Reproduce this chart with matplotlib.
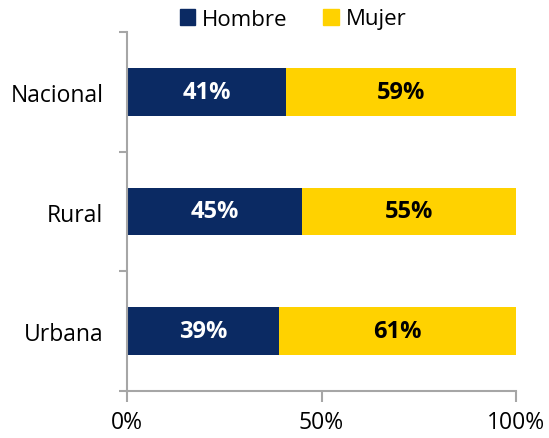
import matplotlib
matplotlib.use("Agg")
import matplotlib.pyplot as plt
from matplotlib.patches import Patch

categories = ["Nacional", "Rural", "Urbana"]
hombre = [41, 45, 39]
mujer = [59, 55, 61]
xticks = [0, 50, 100]
xticklabels = ["0%", "50%", "100%"]

navy = "#0B2A63"
yellow = "#FFD200"
gray = "#A6A6A6"

plt.rcParams['font.family'] = ['Open Sans', 'DejaVu Sans']

fig = plt.figure(figsize=(5.49, 4.39), dpi=100)
ax = fig.add_axes([127/549, 1-392/439, 389/549, 359/439])

ypos = list(range(len(categories)))[::-1]
ax.barh(ypos, hombre, height=0.4, color=navy, label="Hombre")
ax.barh(ypos, mujer, left=hombre, height=0.4, color=yellow, label="Mujer")

for y, h, m in zip(ypos, hombre, mujer):
    ax.text(h/2, y, f"{h}%", ha="center", va="center", color="white",
            fontsize=17, fontweight="bold")
    ax.text(h + m/2, y, f"{m}%", ha="center", va="center", color="black",
            fontsize=17, fontweight="bold")

ax.set_xlim(0, 100)
ax.set_ylim(-0.5, len(categories) - 0.5)
ax.set_xticks(xticks)
ax.set_xticklabels(xticklabels, fontsize=16.5)
ax.set_yticks(ypos)
ax.set_yticklabels(categories, fontsize=16.5)
ax.set_yticks([-0.5, 0.5, 1.5, 2.5], minor=True)
ax.tick_params(axis="y", which="major", length=0, pad=17)
ax.tick_params(axis="y", which="minor", length=6, color=gray, width=1.5)
ax.tick_params(axis="x", which="major", length=8, color=gray, width=1.5, pad=6)

for s in ["top", "right"]:
    ax.spines[s].set_visible(False)
for s in ["left", "bottom"]:
    ax.spines[s].set_color(gray)
    ax.spines[s].set_linewidth(1.5)

handles = [Patch(color=navy, label="Hombre"), Patch(color=yellow, label="Mujer")]
fig.legend(handles=handles, loc="center", bbox_to_anchor=(293/549, 1-20/439),
           ncol=2, frameon=False, fontsize=16, handlelength=0.7, handleheight=0.7,
           handletextpad=0.3, columnspacing=1.6)

fig.savefig("out.png", dpi=100)
